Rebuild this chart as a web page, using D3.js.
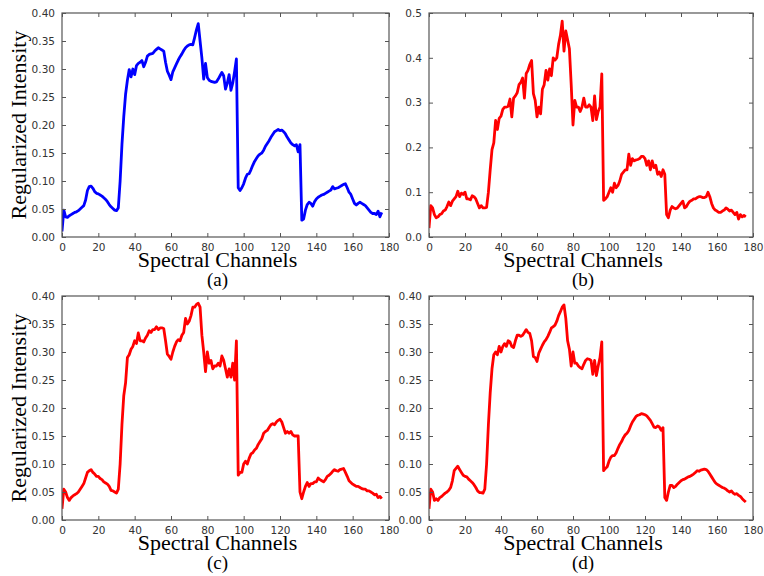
<!DOCTYPE html>
<html>
<head>
<meta charset="utf-8">
<script src="https://cdn.jsdelivr.net/npm/d3@7"></script>
<style>
  body { margin: 0; background: #fff; }
  svg { display: block; }
</style>
</head>
<body>
<div class="chart"></div>
<script>
// spectral channel index, shared by all four spectra
const channels = d3.range(0, 177)

const spectrumA = [
  0.010, 0.048, 0.036, 0.035, 0.038, 0.040, 0.042, 0.044, 0.045, 0.047,
  0.050, 0.053, 0.056, 0.066, 0.083, 0.090, 0.091, 0.087, 0.081, 0.078,
  0.077, 0.075, 0.073, 0.070, 0.067, 0.063, 0.058, 0.054, 0.051, 0.048,
  0.047, 0.052, 0.100, 0.165, 0.215, 0.255, 0.280, 0.299, 0.286, 0.300,
  0.290, 0.306, 0.310, 0.312, 0.315, 0.304, 0.312, 0.323, 0.326, 0.327,
  0.328, 0.332, 0.335, 0.338, 0.336, 0.334, 0.332, 0.312, 0.296, 0.289,
  0.281, 0.295, 0.302, 0.309, 0.316, 0.322, 0.327, 0.333, 0.338, 0.341,
  0.343, 0.344, 0.343, 0.356, 0.370, 0.381, 0.350, 0.320, 0.282, 0.310,
  0.285, 0.280, 0.278, 0.277, 0.276, 0.277, 0.282, 0.288, 0.294, 0.288,
  0.264, 0.275, 0.290, 0.262, 0.275, 0.295, 0.318, 0.088, 0.083, 0.088,
  0.095, 0.105, 0.112, 0.113, 0.120, 0.128, 0.135, 0.140, 0.145, 0.148,
  0.150, 0.155, 0.162, 0.167, 0.172, 0.178, 0.183, 0.188, 0.190, 0.192,
  0.190, 0.191, 0.188, 0.184, 0.178, 0.173, 0.168, 0.165, 0.163, 0.165,
  0.152, 0.165, 0.030, 0.032, 0.048, 0.058, 0.062, 0.060, 0.055, 0.063,
  0.068, 0.071, 0.073, 0.075, 0.076, 0.078, 0.080, 0.082, 0.084, 0.090,
  0.086, 0.087, 0.088, 0.090, 0.092, 0.094, 0.095, 0.088, 0.080, 0.076,
  0.068, 0.060, 0.057, 0.060, 0.062, 0.060, 0.058, 0.056, 0.052, 0.048,
  0.044, 0.042, 0.042, 0.040, 0.046, 0.036, 0.044
]

const spectrumB = [
  0.020, 0.070, 0.065, 0.050, 0.043, 0.045, 0.050, 0.052, 0.058, 0.060,
  0.068, 0.078, 0.070, 0.080, 0.085, 0.090, 0.102, 0.090, 0.098, 0.095,
  0.100, 0.085, 0.085, 0.083, 0.092, 0.090, 0.085, 0.075, 0.065, 0.070,
  0.065, 0.065, 0.066, 0.100, 0.150, 0.195, 0.210, 0.260, 0.240, 0.265,
  0.270, 0.285, 0.290, 0.290, 0.292, 0.308, 0.268, 0.310, 0.315, 0.322,
  0.340, 0.345, 0.355, 0.310, 0.365, 0.372, 0.385, 0.394, 0.320, 0.305,
  0.268, 0.290, 0.275, 0.330, 0.340, 0.372, 0.350, 0.375, 0.360, 0.400,
  0.395, 0.400, 0.430, 0.450, 0.482, 0.415, 0.460, 0.440, 0.420, 0.340,
  0.250, 0.305, 0.290, 0.290, 0.280, 0.290, 0.310, 0.290, 0.290, 0.295,
  0.290, 0.260, 0.315, 0.262, 0.280, 0.290, 0.364, 0.082, 0.085, 0.090,
  0.100, 0.110, 0.100, 0.120, 0.110, 0.115, 0.125, 0.140, 0.145, 0.150,
  0.150, 0.185, 0.160, 0.175, 0.170, 0.172, 0.173, 0.175, 0.180, 0.180,
  0.175, 0.160, 0.170, 0.150, 0.170, 0.155, 0.160, 0.140, 0.145, 0.135,
  0.150, 0.140, 0.050, 0.043, 0.060, 0.068, 0.065, 0.063, 0.065, 0.070,
  0.075, 0.080, 0.065, 0.068, 0.075, 0.080, 0.082, 0.085, 0.085, 0.088,
  0.090, 0.090, 0.088, 0.088, 0.090, 0.100, 0.090, 0.075, 0.065, 0.060,
  0.058, 0.055, 0.055, 0.058, 0.060, 0.065, 0.062, 0.058, 0.060, 0.055,
  0.050, 0.055, 0.040, 0.050, 0.045, 0.048, 0.045
]

const spectrumC = [
  0.020, 0.055, 0.050, 0.040, 0.035, 0.040, 0.043, 0.045, 0.047, 0.050,
  0.055, 0.060, 0.065, 0.075, 0.085, 0.088, 0.090, 0.085, 0.082, 0.078,
  0.078, 0.074, 0.072, 0.068, 0.066, 0.064, 0.060, 0.053, 0.052, 0.050,
  0.048, 0.055, 0.100, 0.170, 0.222, 0.245, 0.290, 0.295, 0.305, 0.310,
  0.320, 0.315, 0.334, 0.320, 0.320, 0.318, 0.325, 0.330, 0.338, 0.335,
  0.340, 0.340, 0.345, 0.340, 0.343, 0.343, 0.342, 0.320, 0.296, 0.292,
  0.287, 0.300, 0.310, 0.318, 0.322, 0.320, 0.330, 0.335, 0.360, 0.350,
  0.355, 0.365, 0.380, 0.380, 0.385, 0.387, 0.380, 0.330, 0.300, 0.265,
  0.300, 0.280, 0.285, 0.270, 0.275, 0.275, 0.280, 0.275, 0.293, 0.285,
  0.270, 0.255, 0.270, 0.255, 0.280, 0.250, 0.320, 0.080, 0.085, 0.085,
  0.100, 0.105, 0.100, 0.110, 0.118, 0.120, 0.125, 0.128, 0.135, 0.140,
  0.145, 0.155, 0.158, 0.160, 0.165, 0.170, 0.172, 0.170, 0.175, 0.178,
  0.180, 0.175, 0.165, 0.155, 0.158, 0.155, 0.158, 0.152, 0.150, 0.150,
  0.150, 0.050, 0.038, 0.050, 0.060, 0.067, 0.060, 0.065, 0.065, 0.068,
  0.068, 0.075, 0.072, 0.070, 0.068, 0.072, 0.078, 0.080, 0.083, 0.087,
  0.090, 0.088, 0.087, 0.090, 0.091, 0.092, 0.085, 0.078, 0.070, 0.067,
  0.064, 0.062, 0.060, 0.060, 0.058, 0.056, 0.055, 0.055, 0.052, 0.052,
  0.050, 0.048, 0.045, 0.046, 0.040, 0.042, 0.038
]

const spectrumD = [
  0.020, 0.055, 0.050, 0.035, 0.038, 0.035, 0.040, 0.042, 0.045, 0.048,
  0.050, 0.053, 0.058, 0.070, 0.088, 0.092, 0.096, 0.090, 0.085, 0.080,
  0.078, 0.077, 0.073, 0.070, 0.067, 0.063, 0.058, 0.052, 0.049, 0.049,
  0.048, 0.055, 0.100, 0.170, 0.227, 0.270, 0.295, 0.300, 0.295, 0.310,
  0.300, 0.310, 0.315, 0.310, 0.320, 0.318, 0.310, 0.308, 0.320, 0.330,
  0.330, 0.328, 0.330, 0.335, 0.340, 0.335, 0.333, 0.320, 0.292, 0.290,
  0.283, 0.298, 0.305, 0.312, 0.318, 0.322, 0.328, 0.335, 0.343, 0.345,
  0.348, 0.355, 0.365, 0.372, 0.380, 0.384, 0.360, 0.320, 0.305, 0.275,
  0.300, 0.280, 0.280, 0.275, 0.272, 0.270, 0.278, 0.285, 0.288, 0.287,
  0.285, 0.260, 0.285, 0.258, 0.275, 0.290, 0.318, 0.088, 0.092, 0.095,
  0.105, 0.112, 0.115, 0.115, 0.120, 0.128, 0.135, 0.140, 0.147, 0.152,
  0.155, 0.160, 0.168, 0.175, 0.180, 0.185, 0.187, 0.188, 0.190, 0.189,
  0.188, 0.186, 0.182, 0.178, 0.172, 0.166, 0.165, 0.168, 0.166, 0.160,
  0.165, 0.040, 0.035, 0.050, 0.062, 0.062, 0.058, 0.060, 0.064, 0.067,
  0.070, 0.072, 0.073, 0.075, 0.077, 0.078, 0.080, 0.082, 0.085, 0.088,
  0.087, 0.089, 0.090, 0.091, 0.090, 0.087, 0.082, 0.077, 0.072, 0.067,
  0.064, 0.062, 0.060, 0.058, 0.057, 0.055, 0.052, 0.050, 0.052, 0.048,
  0.046, 0.047, 0.044, 0.042, 0.038, 0.035, 0.032
]

const xTicks = [0, 20, 40, 60, 80, 100, 120, 140, 160, 180]
const yTicksFine = [0, 0.05, 0.10, 0.15, 0.20, 0.25, 0.30, 0.35, 0.40]
const yTicksCoarse = [0, 0.1, 0.2, 0.3, 0.4, 0.5]
const panelTags = ["(a)", "(b)", "(c)", "(d)"]

const W = 764, H = 576
const svg = d3.select(".chart").append("svg")
  .attr("width", W)
  .attr("height", H)

// layout of the four axes boxes
const panels = [
  {values: spectrumA, color: "#0000ff", yMax: 0.40, yTicks: yTicksFine, fmt: ".2f", box: [62, 13, 389, 237], ylabel: true},
  {values: spectrumB, color: "#ff0000", yMax: 0.5, yTicks: yTicksCoarse, fmt: ".1f", box: [429, 13, 753, 237], ylabel: false},
  {values: spectrumC, color: "#ff0000", yMax: 0.40, yTicks: yTicksFine, fmt: ".2f", box: [62, 296, 389, 520], ylabel: true},
  {values: spectrumD, color: "#ff0000", yMax: 0.40, yTicks: yTicksFine, fmt: ".2f", box: [429, 296, 753, 520], ylabel: false}
]

const frameColor = "#555"
const tickColor = "#333"

panels.forEach(function (p, i) {
  const [x0, y0, x1, y1] = p.box
  const x = d3.scaleLinear().domain([0, 180]).range([x0, x1])
  const y = d3.scaleLinear().domain([0, p.yMax]).range([y1, y0])
  const g = svg.append("g")

  const clipId = "clip" + i
  g.append("clipPath").attr("id", clipId)
    .append("rect")
    .attr("x", x0).attr("y", y0)
    .attr("width", x1 - x0).attr("height", y1 - y0)

  const line = d3.line()
    .x((d, k) => x(channels[k]))
    .y(d => y(d))

  g.append("path")
    .datum(p.values)
    .attr("clip-path", "url(#" + clipId + ")")
    .attr("d", line)
    .attr("fill", "none")
    .attr("stroke", p.color)
    .attr("stroke-width", 2.8)
    .attr("stroke-linejoin", "round")

  // matplotlib style ticks pointing inwards on all four sides
  const tickLen = 4
  const bottom = d3.axisBottom(x).tickValues(xTicks).tickSizeInner(-tickLen).tickSizeOuter(0).tickPadding(7)
  const top = d3.axisTop(x).tickValues(xTicks).tickSizeInner(-tickLen).tickSizeOuter(0).tickFormat("")
  const left = d3.axisLeft(y).tickValues(p.yTicks).tickSizeInner(-tickLen).tickSizeOuter(0).tickPadding(7).tickFormat(d3.format(p.fmt))
  const right = d3.axisRight(y).tickValues(p.yTicks).tickSizeInner(-tickLen).tickSizeOuter(0).tickFormat("")

  const axes = [
    g.append("g").attr("transform", `translate(0,${y1})`).call(bottom),
    g.append("g").attr("transform", `translate(0,${y0})`).call(top),
    g.append("g").attr("transform", `translate(${x0},0)`).call(left),
    g.append("g").attr("transform", `translate(${x1},0)`).call(right)
  ]
  axes.forEach(function (a) {
    a.select(".domain").remove()
    a.selectAll(".tick line").attr("stroke", frameColor)
    a.selectAll("text")
      .attr("fill", tickColor)
      .style("font-family", "DejaVu Sans")
      .style("font-size", "10.5px")
  })

  g.append("rect")
    .attr("x", x0).attr("y", y0)
    .attr("width", x1 - x0).attr("height", y1 - y0)
    .attr("fill", "none")
    .attr("stroke", frameColor)
    .attr("stroke-width", 1.2)

  const cx = (x0 + x1) / 2 - 8
  g.append("text")
    .attr("x", cx).attr("y", y1 + 30)
    .attr("text-anchor", "middle")
    .style("font-family", "Liberation Serif")
    .style("font-size", "22px")
    .text("Spectral Channels")

  g.append("text")
    .attr("x", cx).attr("y", y1 + 49)
    .attr("text-anchor", "middle")
    .style("font-family", "Liberation Serif")
    .style("font-size", "19px")
    .text(panelTags[i])

  if (p.ylabel) {
    g.append("text")
      .attr("transform", `translate(26,${(y0 + y1) / 2}) rotate(-90)`)
      .attr("text-anchor", "middle")
      .style("font-family", "Liberation Serif")
      .style("font-size", "22px")
      .text("Regularized Intensity")
  }
})
</script>
</body>
</html>
